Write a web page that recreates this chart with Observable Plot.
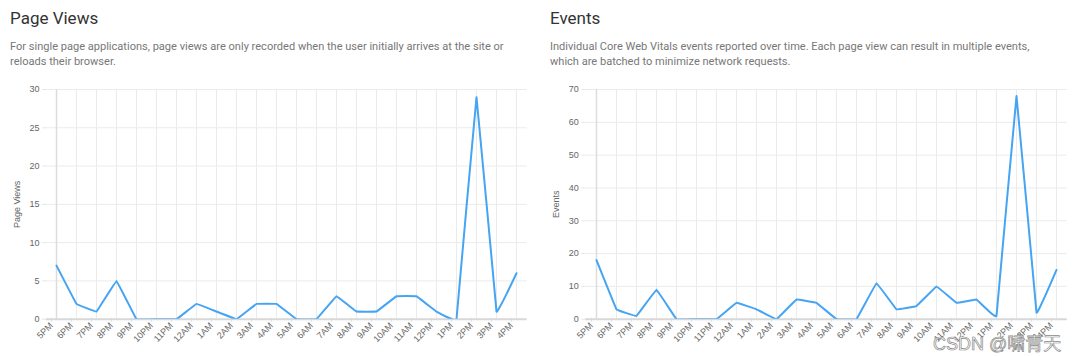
<!DOCTYPE html>
<html><head><meta charset="utf-8">
<script src="https://cdn.jsdelivr.net/npm/d3@7"></script>
<script src="https://cdn.jsdelivr.net/npm/@observablehq/plot@0.6"></script>
<style>
html,body{margin:0;padding:0;background:#fff}
body{width:1080px;height:356px;overflow:hidden;position:relative;font-family:Roboto,"Noto Sans",sans-serif}
.panel{position:absolute;top:0;width:540px;height:356px}
.title{position:absolute;left:10px;top:7.5px;font-size:17px;line-height:20px;color:#333;white-space:nowrap}
.sub{position:absolute;left:10px;top:38.5px;font-size:11.05px;line-height:15px;color:#777;white-space:nowrap}
.chart{position:absolute;left:0;top:80px}
.wm{position:absolute;left:933px;top:329px;font-family:"Liberation Sans","Noto Sans CJK SC",sans-serif;font-size:18px;color:#fff;-webkit-text-stroke:0.7px #8a8a8a;white-space:nowrap}
</style></head>
<body>
<div class="panel" id="p1" style="left:0">
  <div class="title">Page Views</div>
  <div class="sub">For single page applications, page views are only recorded when the user initially arrives at the site or<br>reloads their browser.</div>
  <div class="chart" id="c1"></div>
</div>
<div class="panel" id="p2" style="left:540px">
  <div class="title">Events</div>
  <div class="sub">Individual Core Web Vitals events reported over time. Each page view can result in multiple events,<br>which are batched to minimize network requests.</div>
  <div class="chart" id="c2"></div>
</div>
<div class="wm">CSDN @啸青天</div>
<script>
const hours = ["5PM","6PM","7PM","8PM","9PM","10PM","11PM","12AM","1AM","2AM","3AM","4AM","5AM","6AM","7AM","8AM","9AM","10AM","11AM","12PM","1PM","2PM","3PM","4PM"];
const pageViews = [7,2,1,5,0,0,0,2,1,0,2,2,0,0,3,1,1,3,3,1,0,29,1,6];
const events = [18,3,1,9,0,0,0,5,3,0,6,5,0,0,11,3,4,10,5,6,1,68,2,15];
const pageViewTicks = [0,5,10,15,20,25,30];
const eventTicks = [0,10,20,30,40,50,60,70];

function chart(values, ticks, label, ml) {
  const data = hours.map((h, i) => ({hour: h, value: values[i]}));
  return Plot.plot({
    width: 540, height: 276,
    marginTop: 9, marginBottom: 37.3, marginLeft: ml, marginRight: 13.3,
    style: {fontFamily: "'Liberation Sans', Arial, sans-serif", fontSize: "9px", color: "#666", background: "transparent", overflow: "visible"},
    x: {type: "point", domain: hours, padding: 0, label: null},
    y: {domain: [0, ticks[ticks.length - 1]], label: null},
    marks: [
      Plot.gridX(hours, {stroke: "#ebebeb", strokeOpacity: 1}),
      Plot.gridY(ticks, {stroke: "#ebebeb", strokeOpacity: 1}),
      Plot.axisX(hours, {tickRotate: -45, tickSize: 4, tickPadding: 2, dx: -5, dy: -1, stroke: "#e0e0e0", fill: "#666", label: null}),
      Plot.axisY(ticks, {tickSize: 4, tickPadding: 3, stroke: "#e6e6e6", fill: "#666", label, labelAnchor: "center", labelArrow: "none", labelOffset: 33}),
      Plot.ruleY([0], {stroke: "#d8d8d8", strokeWidth: 2}),
      Plot.ruleX([hours[0]], {stroke: "#dcdcdc", strokeWidth: 1.5}),
      Plot.line(data, {x: "hour", y: "value", curve: "cardinal", tension: 0.9, clip: true, stroke: "#45a4f3", strokeWidth: 2})
    ]
  });
}
document.getElementById("c1").appendChild(chart(pageViews, pageViewTicks, "Page Views", 46));
document.getElementById("c2").appendChild(chart(events, eventTicks, "Events", 45.3));
</script>
</body></html>
